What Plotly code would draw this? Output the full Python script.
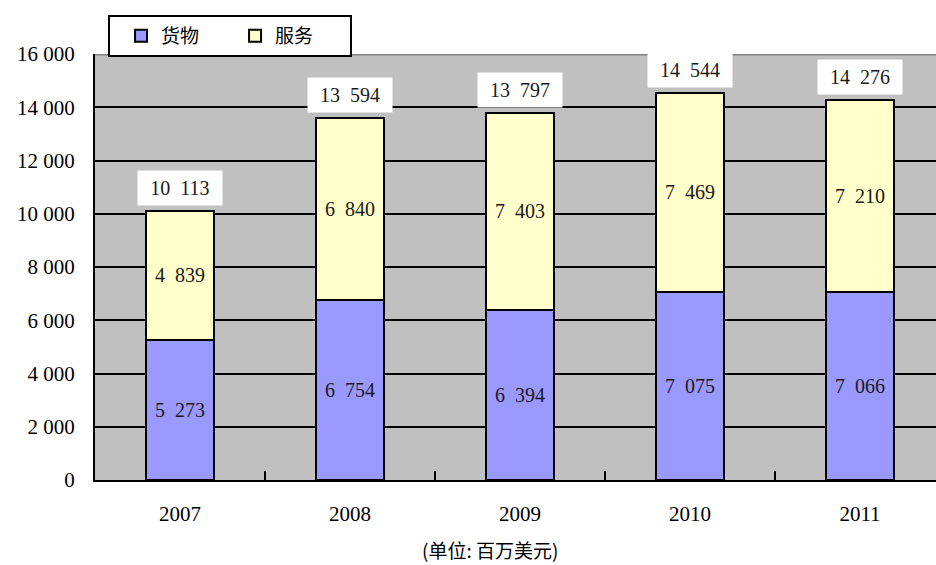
import plotly.graph_objects as go

years = ["2007", "2008", "2009", "2010", "2011"]
goods = [5273, 6754, 6394, 7075, 7066]
services = [4839, 6840, 7403, 7469, 7210]
totals = [10113, 13594, 13797, 14544, 14276]
ytick_vals = [0, 2000, 4000, 6000, 8000, 10000, 12000, 14000, 16000]
ytick_text = ["0", "2 000", "4 000", "6 000", "8 000", "10 000", "12 000", "14 000", "16 000"]
series_names = ["货物", "服务"]
unit_label = "(单位: 百万美元)"


def fmt(v):
    return f"{v:,}".replace(",", "\u2002")


serif = "Liberation Serif, DejaVu Serif, serif"
cjk = "Noto Sans CJK SC, sans-serif"

fig = go.Figure()
fig.add_trace(go.Bar(
    x=years, y=goods, name=series_names[0],
    marker=dict(color="#9999FF", line=dict(color="black", width=2)),
    text=[fmt(v) for v in goods], textposition="inside",
    insidetextanchor="middle", textangle=0,
    textfont=dict(family=serif, size=20, color="#1a1a1a"),
    width=0.4,
))
fig.add_trace(go.Bar(
    x=years, y=services, name=series_names[1],
    marker=dict(color="#FFFFCC", line=dict(color="black", width=2)),
    text=[fmt(v) for v in services], textposition="inside",
    insidetextanchor="middle", textangle=0,
    textfont=dict(family=serif, size=20, color="#1a1a1a"),
    width=0.4,
))

for i, t in enumerate(totals):
    fig.add_annotation(
        x=i, y=t, text=fmt(t), showarrow=False,
        yanchor="bottom", yshift=5,
        width=72, height=22,
        bgcolor="white", borderpad=6,
        font=dict(family=serif, size=20, color="#1a1a1a"),
    )

fig.add_annotation(
    xref="paper", yref="paper", x=0.4697, y=-0.164, yanchor="middle",
    text=unit_label, showarrow=False,
    font=dict(family=cjk, size=19, color="black"),
)

fig.add_shape(type="line", xref="paper", yref="y", x0=0, x1=1, y0=16000, y1=16000,
              line=dict(color="#808080", width=3))

fig.update_layout(
    width=936, height=565,
    margin=dict(l=95, r=0, t=54, b=85),
    barmode="stack",
    plot_bgcolor="#C0C0C0",
    paper_bgcolor="white",
    showlegend=True,
    legend=dict(
        orientation="h", x=0.0155, y=1.0915, xanchor="left", yanchor="top",
        traceorder="normal",
        title=dict(text="\u2002", side="left", font=dict(size=2)),
        bgcolor="white", bordercolor="black", borderwidth=2,
        font=dict(family=cjk, size=19, color="black"),
        itemwidth=30, entrywidthmode="pixels", entrywidth=69,
    ),
    xaxis=dict(
        type="category",
        range=[-0.5, 4.447],
        showline=True, linecolor="black", linewidth=2,
        ticks="inside", tickson="boundaries", ticklen=9, tickwidth=2, tickcolor="black",
        showgrid=False,
        tickfont=dict(family=serif, size=21, color="black"),
        ticklabelstandoff=14,
    ),
    yaxis=dict(
        range=[0, 16000],
        tickvals=ytick_vals, ticktext=ytick_text,
        showline=True, linecolor="black", linewidth=2,
        showgrid=True, gridcolor="black", gridwidth=2,
        zeroline=False,
        ticks="outside", ticklen=14, tickcolor="rgba(0,0,0,0)",
        tickfont=dict(family=serif, size=21, color="black"),
    ),
)

fig.write_html("out.html", config={"displayModeBar": False},
               post_script="document.body.style.margin='0';")
